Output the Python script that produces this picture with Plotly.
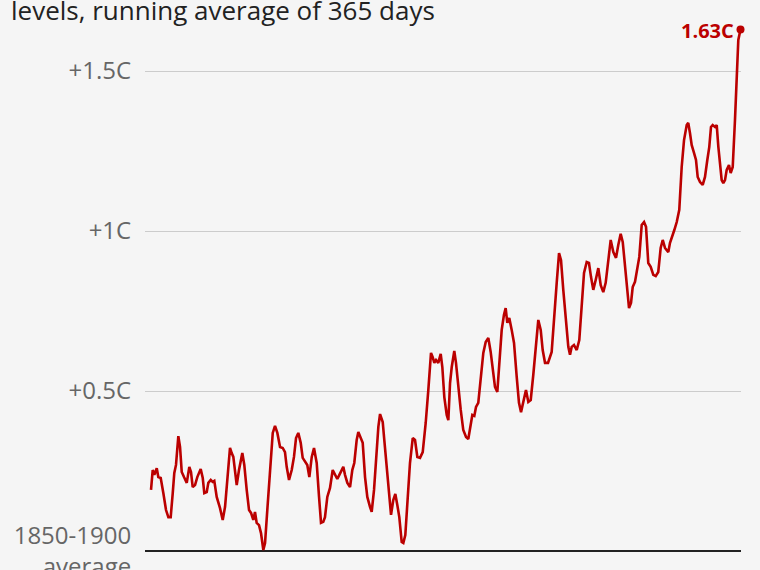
import plotly.graph_objects as go

# Decimal year at the end of each 365-day window
years = [
    1941.14, 1941.38, 1941.61, 1941.95, 1942.17, 1942.51, 1942.88, 1943.26, 1943.59, 1943.92,
    1944.21, 1944.43, 1944.67, 1945.00, 1945.24, 1945.48, 1945.80, 1946.19, 1946.55, 1946.79,
    1947.03, 1947.36, 1947.68, 1948.16, 1948.45, 1948.67, 1949.01, 1949.24, 1949.58, 1949.86,
    1950.08, 1950.42, 1950.89, 1951.27, 1951.60, 1951.92, 1952.30, 1952.54, 1952.77, 1953.25,
    1953.57, 1954.04, 1954.32, 1954.66, 1954.99, 1955.27, 1955.59, 1955.83, 1956.07, 1956.40,
    1956.68, 1957.01, 1957.25, 1957.57, 1957.95, 1958.34, 1958.66, 1958.99, 1959.37, 1959.75,
    1960.07, 1960.31, 1960.64, 1961.02, 1961.34, 1961.63, 1961.95, 1962.29, 1962.57, 1962.90,
    1963.22, 1963.51, 1963.85, 1964.17, 1964.55, 1964.88, 1965.16, 1965.48, 1965.72, 1966.05,
    1966.43, 1966.81, 1967.14, 1967.46, 1967.75, 1968.08, 1968.31, 1968.55, 1968.88, 1969.26,
    1969.58, 1969.86, 1970.20, 1970.43, 1970.77, 1971.05, 1971.38, 1971.70, 1972.08, 1972.32,
    1972.65, 1972.93, 1973.26, 1973.50, 1973.88, 1974.10, 1974.44, 1974.81, 1975.05, 1975.37,
    1975.66, 1975.94, 1976.22, 1976.56, 1976.79, 1977.07, 1977.35, 1977.73, 1978.12, 1978.44,
    1978.77, 1979.15, 1979.53, 1979.95, 1980.32, 1980.70, 1980.94, 1981.17, 1981.41, 1981.73,
    1982.07, 1982.30, 1982.58, 1982.92, 1983.15, 1983.39, 1983.63, 1983.99, 1984.23, 1984.56,
    1984.90, 1985.26, 1985.65, 1985.97, 1986.21, 1986.54, 1986.82, 1987.06, 1987.38, 1987.72,
    1988.09, 1988.43, 1988.80, 1989.13, 1989.50, 1989.74, 1990.07, 1990.35, 1990.69, 1991.01,
    1991.25, 1991.48, 1991.76, 1992.10, 1992.43, 1992.81, 1993.13, 1993.42, 1993.74, 1994.12,
    1994.45, 1994.79, 1995.15, 1995.54, 1995.86, 1996.20, 1996.48, 1996.81, 1997.23, 1997.75,
    1998.08, 1998.46, 1998.79, 1999.07, 1999.39, 1999.77, 2000.10, 2000.34, 2000.58, 2000.90,
    2001.29, 2001.65, 2001.99, 2002.32, 2002.70, 2003.02, 2003.31, 2003.63, 2003.97, 2004.34,
    2004.68, 2005.04, 2005.38, 2005.75, 2006.09, 2006.46, 2006.84, 2007.16, 2007.50, 2007.79,
    2008.11, 2008.44, 2008.68, 2008.96, 2009.20, 2009.52, 2009.85, 2010.13, 2010.47, 2010.80,
    2011.08, 2011.40, 2011.74, 2012.11, 2012.45, 2012.81, 2013.15, 2013.44, 2013.76, 2014.23,
    2014.47, 2014.79, 2015.08, 2015.42, 2015.78, 2016.12, 2016.45, 2016.83, 2017.05, 2017.29,
    2017.53, 2017.86, 2018.14, 2018.38, 2018.71, 2019.09, 2019.41, 2019.74, 2020.02, 2020.26,
    2020.50, 2020.83, 2021.07, 2021.30, 2021.53, 2021.77, 2022.00, 2022.24, 2022.48, 2022.80,
    2023.04, 2023.33, 2023.65, 2023.89, 2024.12, 2024.43,
]

# Temperature above the 1850-1900 average (C)
anomaly = [
    0.191, 0.253, 0.238, 0.259, 0.231, 0.228, 0.181, 0.128, 0.106, 0.106,
    0.181, 0.244, 0.269, 0.359, 0.325, 0.247, 0.231, 0.213, 0.263, 0.247,
    0.200, 0.206, 0.231, 0.256, 0.228, 0.181, 0.184, 0.213, 0.222, 0.216,
    0.219, 0.169, 0.134, 0.097, 0.138, 0.231, 0.322, 0.306, 0.294, 0.206,
    0.253, 0.306, 0.269, 0.191, 0.128, 0.119, 0.097, 0.122, 0.088, 0.081,
    0.056, 0.003, 0.025, 0.128, 0.253, 0.369, 0.391, 0.369, 0.325, 0.322,
    0.309, 0.263, 0.222, 0.253, 0.294, 0.353, 0.369, 0.338, 0.291, 0.278,
    0.269, 0.231, 0.294, 0.322, 0.275, 0.169, 0.088, 0.091, 0.106, 0.169,
    0.197, 0.253, 0.238, 0.225, 0.238, 0.256, 0.263, 0.238, 0.213, 0.200,
    0.253, 0.275, 0.347, 0.372, 0.353, 0.338, 0.231, 0.169, 0.138, 0.122,
    0.191, 0.275, 0.388, 0.428, 0.403, 0.347, 0.263, 0.169, 0.113, 0.159,
    0.178, 0.144, 0.106, 0.028, 0.025, 0.050, 0.138, 0.275, 0.353, 0.347,
    0.294, 0.291, 0.309, 0.400, 0.503, 0.619, 0.606, 0.588, 0.597, 0.588,
    0.616, 0.575, 0.481, 0.425, 0.409, 0.525, 0.575, 0.625, 0.588, 0.503,
    0.441, 0.378, 0.356, 0.350, 0.378, 0.425, 0.422, 0.450, 0.463, 0.541,
    0.619, 0.653, 0.666, 0.622, 0.556, 0.513, 0.497, 0.588, 0.691, 0.738,
    0.759, 0.713, 0.728, 0.691, 0.650, 0.544, 0.463, 0.434, 0.466, 0.503,
    0.466, 0.472, 0.550, 0.659, 0.722, 0.691, 0.628, 0.588, 0.588, 0.622,
    0.731, 0.838, 0.931, 0.909, 0.816, 0.713, 0.638, 0.613, 0.638, 0.644,
    0.628, 0.659, 0.753, 0.869, 0.903, 0.900, 0.856, 0.816, 0.847, 0.884,
    0.831, 0.809, 0.838, 0.919, 0.972, 0.934, 0.916, 0.956, 0.991, 0.966,
    0.888, 0.816, 0.759, 0.775, 0.825, 0.841, 0.888, 0.919, 1.019, 1.028,
    1.013, 0.900, 0.888, 0.863, 0.859, 0.872, 0.947, 0.972, 0.947, 0.934,
    0.963, 0.981, 1.003, 1.028, 1.066, 1.200, 1.284, 1.331, 1.338, 1.306,
    1.269, 1.244, 1.222, 1.169, 1.153, 1.144, 1.169, 1.222, 1.263, 1.325,
    1.331, 1.325, 1.331, 1.263, 1.200, 1.159, 1.150, 1.159, 1.191, 1.206,
    1.181, 1.200, 1.347, 1.503, 1.597, 1.630,
]

tick_values = [0, 0.5, 1, 1.5]
tick_labels = ["1850-1900<br>average", "+0.5C", "+1C", "+1.5C"]
latest_label = "1.63C"
title_text = "levels, running average of 365 days"

RED = "#bb0000"
FONT = "Open Sans"

fig = go.Figure()
fig.add_trace(go.Scatter(
    x=years, y=anomaly, mode="lines",
    line=dict(color=RED, width=2.6),
    hoverinfo="skip", showlegend=False,
))
fig.add_trace(go.Scatter(
    x=[years[-1]], y=[anomaly[-1]], mode="markers",
    marker=dict(color=RED, size=8),
    cliponaxis=False, hoverinfo="skip", showlegend=False,
))

fig.update_layout(
    width=760, height=570,
    margin=dict(l=145, r=19, t=20, b=10, autoexpand=False),
    paper_bgcolor="#f5f5f5", plot_bgcolor="#f5f5f5",
    font=dict(family=FONT, color="#666666"),
    xaxis=dict(range=[1940.29, 2024.5], visible=False, fixedrange=True,
               automargin=False),
    yaxis=dict(
        range=[-0.028125, 1.659375],
        tickvals=tick_values, ticktext=tick_labels,
        tickfont=dict(size=24, color="#666666", family=FONT),
        ticks="outside", ticklen=8, tickcolor="rgba(0,0,0,0)",
        ticklabeloverflow="allow", automargin=False,
        showgrid=True, gridcolor="#cccccc", gridwidth=1,
        zeroline=True, zerolinecolor="#222222", zerolinewidth=1.5,
        showline=False, fixedrange=True,
    ),
    annotations=[
        dict(
            text=title_text, xref="paper", yref="paper",
            x=-0.228, y=1.0176, xanchor="left", yanchor="middle",
            showarrow=False, font=dict(size=26, color="#222222", family=FONT),
        ),
        dict(
            text=f"<b>{latest_label}</b>", xref="x", yref="y",
            x=years[-1], y=anomaly[-1], xanchor="right", yanchor="middle",
            xshift=-5, yshift=-1, showarrow=False,
            font=dict(size=20, color=RED, family=FONT),
        ),
    ],
)

fig.write_html(
    "out.html",
    config={"displayModeBar": False, "staticPlot": True},
    post_script="document.body.style.margin='0';document.body.style.overflow='hidden';",
)
